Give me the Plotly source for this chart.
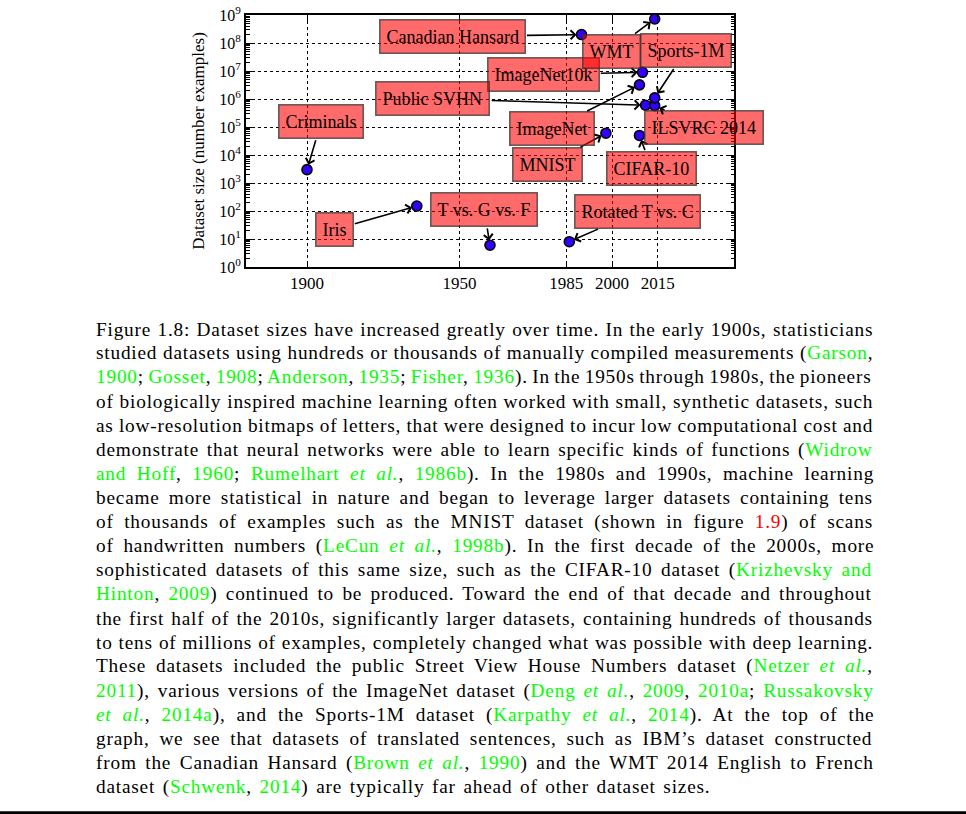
import math
import re
import plotly.graph_objects as go

# ---------------- data ----------------
names = ["Criminals", "Iris", "T vs. G vs. F", "Rotated T vs. C", "MNIST",
         "Canadian Hansard", "CIFAR-10", "ImageNet", "ImageNet10k",
         "Public SVHN", "ILSVRC 2014", "Sports-1M", "WMT"]
years = [1900, 1936, 1960, 1986, 1998, 1990, 2009, 2009, 2010, 2011, 2014, 2014, 2014]
sizes = [3000, 150, 6, 8, 60000, 2.0e8, 50000, 3.2e6, 9.0e6, 6.0e5, 5.8e5, 1.1e6, 7.2e8]

# label box centres (year, log10 size) — layout only
label_years = [1904.7, 1908.9, 1958.1, 2008.5, 1979.0, 1947.6, 2013.1,
               1980.3, 1977.4, 1941.3, 2030.1, 2024.2, 1999.7]
label_logs = [5.19, 1.33, 2.05, 1.98, 3.65, 8.23, 3.51,
              4.94, 6.87, 6.01, 4.98, 7.73, 7.69]

x_tick_vals = [1900, 1950, 1985, 2000, 2015]
x_tick_text = ["1900", "1950", "1985", "2000", "2015"]
y_exponents = list(range(10))

caption_lines = [
    "Figure 1.8: Dataset sizes have increased greatly over time. In the early 1900s, statisticians",
    "studied datasets using hundreds or thousands of manually compiled measurements ({Garson},",
    "{1900}; {Gosset}, {1908}; {Anderson}, {1935}; {Fisher}, {1936}). In the 1950s through 1980s, the pioneers",
    "of biologically inspired machine learning often worked with small, synthetic datasets, such",
    "as low-resolution bitmaps of letters, that were designed to incur low computational cost and",
    "demonstrate that neural networks were able to learn specific kinds of functions ({Widrow}",
    "{and Hoff}, {1960}; {Rumelhart _et al._}, {1986b}). In the 1980s and 1990s, machine learning",
    "became more statistical in nature and began to leverage larger datasets containing tens",
    "of thousands of examples such as the MNIST dataset (shown in figure [1.9]) of scans",
    "of handwritten numbers ({LeCun _et al._}, {1998b}). In the first decade of the 2000s, more",
    "sophisticated datasets of this same size, such as the CIFAR-10 dataset ({Krizhevsky and}",
    "{Hinton}, {2009}) continued to be produced. Toward the end of that decade and throughout",
    "the first half of the 2010s, significantly larger datasets, containing hundreds of thousands",
    "to tens of millions of examples, completely changed what was possible with deep learning.",
    "These datasets included the public Street View House Numbers dataset ({Netzer _et al._},",
    "{2011}), various versions of the ImageNet dataset ({Deng _et al._}, {2009}, {2010a}; {Russakovsky}",
    "{_et al._}, {2014a}), and the Sports-1M dataset ({Karpathy _et al._}, {2014}). At the top of the",
    "graph, we see that datasets of translated sentences, such as IBM’s dataset constructed",
    "from the Canadian Hansard ({Brown _et al._}, {1990}) and the WMT 2014 English to French",
    "dataset ({Schwenk}, {2014}) are typically far ahead of other dataset sizes.",
]

# ---------------- page geometry ----------------
W_PX, H_PX = 966, 814
PL, PR, PT, PB = 246, 734, 15, 267   # plot area in pixels


def px2x(px):
    return (px - PL) / (PR - PL)


def py2y(py):
    return (PB - py) / (PB - PT)


SERIF = "Liberation Serif"

# Times / Liberation Serif advance widths (1/1000 em)
TW = {' ': 250, '(': 333, ')': 333, ',': 250, '-': 333, '.': 250, ':': 278, ';': 278,
      '’': 333, "'": 333,
      'A': 722, 'B': 667, 'C': 667, 'D': 722, 'E': 611, 'F': 556, 'G': 722, 'H': 722,
      'I': 333, 'J': 389, 'K': 722, 'L': 611, 'M': 889, 'N': 722, 'O': 722, 'P': 556,
      'Q': 722, 'R': 667, 'S': 556, 'T': 611, 'U': 722, 'V': 722, 'W': 944, 'X': 722,
      'Y': 722, 'Z': 611,
      'a': 444, 'b': 500, 'c': 444, 'd': 500, 'e': 444, 'f': 333, 'g': 500, 'h': 500,
      'i': 278, 'j': 278, 'k': 500, 'l': 278, 'm': 778, 'n': 500, 'o': 500, 'p': 500,
      'q': 500, 'r': 333, 's': 389, 't': 278, 'u': 500, 'v': 500, 'w': 722, 'x': 500,
      'y': 500, 'z': 444}
for d in "0123456789":
    TW[d] = 500


def parse_line(line):
    """Return list of (text, color, italic)."""
    segs = []
    for tok in re.split(r'(\{[^}]*\}|\[[^\]]*\])', line):
        if not tok:
            continue
        if tok.startswith('{'):
            inner = tok[1:-1]
            parts = inner.split('_')
            for k, p in enumerate(parts):
                if p:
                    segs.append((p, '#00ff00', k % 2 == 1))
        elif tok.startswith('['):
            segs.append((tok[1:-1], '#ff0000', False))
        else:
            segs.append((tok, '#000000', False))
    return segs


CAP_FS = 19.3
CAP_LS = 0.8
CAP_LEFT = 96
CAP_RIGHT = 874
LAST_RIGHT = 711
CAP_Y0 = 329.3
CAP_DY = 24.08

fig = go.Figure()

fig.add_trace(go.Scatter(
    x=years, y=sizes, mode="markers",
    marker=dict(size=10, color="#3300ff", line=dict(color="black", width=1.6)),
    showlegend=False, hoverinfo="skip", cliponaxis=False))

annotations = []
for n, yr, sz, lx, ly in zip(names, years, sizes, label_years, label_logs):
    annotations.append(dict(
        x=yr, y=math.log10(sz), xref="x", yref="y",
        ax=lx, ay=ly, axref="x", ayref="y",
        text=n, showarrow=True, arrowhead=4, arrowsize=1.1, arrowwidth=1.6,
        arrowcolor="black", standoff=5, startstandoff=2,
        bgcolor="rgba(255,0,0,0.58)", bordercolor="rgba(50,50,50,0.75)",
        borderwidth=1.5, borderpad=6,
        font=dict(family=SERIF, size=18, color="black")))

for i, line in enumerate(caption_lines):
    segs = parse_line(line)
    plain = "".join(s[0] for s in segs)
    nat = sum(TW.get(c, 500) for c in plain) / 1000.0 * CAP_FS + len(plain) * CAP_LS
    nsp = plain.count(" ")
    target = (LAST_RIGHT if i == len(caption_lines) - 1 else CAP_RIGHT) - CAP_LEFT
    ws = (target - nat) / max(nsp, 1)
    html = ""
    for txt, col, it in segs:
        st = "color:%s;word-spacing:%.2fpx;letter-spacing:%.2fpx" % (col, ws, CAP_LS)
        if it:
            st += ";font-style:italic"
        html += '<span style="%s">%s</span>' % (st, txt)
    annotations.append(dict(
        xref="paper", yref="paper", x=px2x(CAP_LEFT), y=py2y(CAP_Y0 + i * CAP_DY),
        xanchor="left", yanchor="middle", showarrow=False, text=html,
        borderpad=0, borderwidth=0, align="left",
        font=dict(family=SERIF, size=CAP_FS, color="black")))

fig.add_shape(type="line", xref="paper", yref="paper",
              x0=px2x(0), x1=px2x(W_PX), y0=py2y(812.8), y1=py2y(812.8),
              line=dict(color="black", width=3))

fig.update_xaxes(
    range=[1880, 2040], tickmode="array", tickvals=x_tick_vals, ticktext=x_tick_text,
    showgrid=True, gridcolor="black", griddash="dot", gridwidth=1,
    showline=True, linecolor="black", linewidth=2, mirror="allticks",
    ticks="inside", ticklen=6, tickwidth=1.2, tickcolor="black",
    tickfont=dict(family=SERIF, size=17, color="black"), zeroline=False,
    automargin=False)

fig.update_yaxes(
    type="log", range=[0, 9], tickmode="array",
    tickvals=[10 ** k for k in y_exponents],
    ticktext=["10<sup>%d</sup>" % k for k in y_exponents],
    showgrid=True, gridcolor="black", griddash="dot", gridwidth=1,
    showline=True, linecolor="black", linewidth=2, mirror="allticks",
    ticks="inside", ticklen=7, tickwidth=1.2, tickcolor="black",
    minor=dict(ticks="inside", ticklen=3.5, tickwidth=1, tickcolor="black", showgrid=False,
               tickmode="array",
               tickvals=[m * 10 ** k for k in y_exponents[:-1] for m in range(2, 10)]),
    tickfont=dict(family=SERIF, size=16, color="black"),
    title=dict(text="Dataset size (number examples)", standoff=10,
               font=dict(family=SERIF, size=17, color="black")),
    zeroline=False, automargin=False)

fig.update_layout(
    width=W_PX, height=H_PX, autosize=False,
    margin=dict(l=PL, r=W_PX - PR, t=PT, b=H_PX - PB),
    plot_bgcolor="white", paper_bgcolor="white", showlegend=False,
    font=dict(family=SERIF, color="black"),
    annotations=annotations)

fig.write_html("out.html")
